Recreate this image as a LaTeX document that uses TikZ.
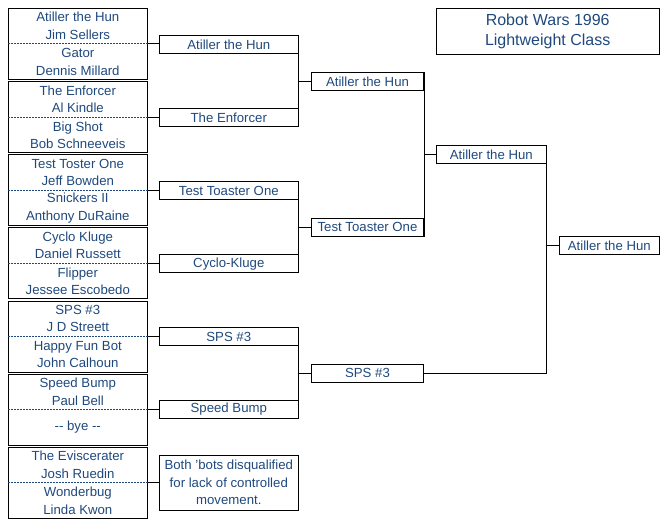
\documentclass[tikz,border=0pt]{standalone}
\usepackage{fontspec}
\setmainfont{Liberation Sans}
\definecolor{inkblue}{RGB}{31,73,125}

\begin{document}
\begin{tikzpicture}[x=0.75pt,y=0.75pt,yscale=-1,xscale=1,line width=0.75pt,
	every node/.style={text=inkblue,font=\fontsize{9.9}{13.1}\selectfont,inner sep=0pt,align=center},
	match/.style={draw=black,minimum width=104.25pt,minimum height=53.25pt},
	winner/.style={draw=black,minimum width=104.25pt,minimum height=13.5pt},
	later/.style={draw=black,minimum width=84.3pt,minimum height=13.5pt},
	split/.style={draw=inkblue,dash pattern=on 1.5pt off 0.75pt}]
		\useasboundingbox (0,0) rectangle (670,530);
		\node [match] (m1) at (77.8,44) {};
		\node (m1a) at (77.8,26) {Atiller the Hun\\Jim Sellers};
		\node (m1b) at (77.8,62) {Gator\\Dennis Millard};
		\node [match] (m2) at (77.8,117.2) {};
		\node (m2a) at (77.8,99.2) {The Enforcer\\Al Kindle};
		\node (m2b) at (77.8,135.2) {Big Shot\\Bob Schneeveis};
		\node [match] (m3) at (77.8,190.3) {};
		\node (m3a) at (77.8,172.3) {Test Toster One\\Jeff Bowden};
		\node (m3b) at (77.8,208.3) {Snickers II\\Anthony DuRaine};
		\node [match] (m4) at (77.8,263.5) {};
		\node (m4a) at (77.8,245.5) {Cyclo Kluge\\Daniel Russett};
		\node (m4b) at (77.8,281.5) {Flipper\\Jessee Escobedo};
		\node [match] (m5) at (77.8,336.7) {};
		\node (m5a) at (77.8,318.7) {SPS \#3\\J D Streett};
		\node (m5b) at (77.8,354.7) {Happy Fun Bot\\John Calhoun};
		\node [match] (m6) at (77.8,409.8) {};
		\node (m6a) at (77.8,391.9) {Speed Bump\\Paul Bell};
		\node (m6b) at (77.8,427.2) {{-}{-} bye {-}{-}};
		\node [match] (m7) at (77.8,482.8) {};
		\node (m7a) at (77.8,465) {The Eviscerater\\Josh Ruedin};
		\node (m7b) at (77.8,501) {Wonderbug\\Linda Kwon};
		\draw [split] (m1.west) -- (m1.east);
		\draw [split] (m2.west) -- (m2.east);
		\draw [split] (m3.west) -- (m3.east);
		\draw [split] (m4.west) -- (m4.east);
		\draw [split] (m5.west) -- (m5.east);
		\draw [split] (m6.west) -- (m6.east);
		\draw [split] (m7.west) -- (m7.east);
		\node [winner] (r1) at (228.8,44.8) {Atiller the Hun};
		\node [winner] (r2) at (228.8,117.8) {The Enforcer};
		\node [winner] (r3) at (228.8,190.8) {Test Toaster One};
		\node [winner] (r4) at (228.8,264) {Cyclo-Kluge};
		\node [winner] (r5) at (228.8,336.5) {SPS \#3};
		\node [winner] (r6) at (228.8,409.5) {Speed Bump};
		\node [winner,minimum height=41.25pt] (n7) at (228.8,482.7) {Both 'bots disqualified\\for lack of controlled\\movement.};
		\draw (m1.east) -- (m1.east -| r1.west);
		\draw (m2.east) -- (m2.east -| r2.west);
		\draw (m3.east) -- (m3.east -| r3.west);
		\draw (m4.east) -- (m4.east -| r4.west);
		\draw (m5.east) -- (m5.east -| r5.west);
		\draw (m6.east) -- (m6.east -| r6.west);
		\draw (m7.east) -- (m7.east -| n7.west);
		\node [later] (s1) at (367.5,81.3) {Atiller the Hun};
		\node [later] (s2) at (367.5,227.3) {Test Toaster One};
		\node [later] (s3) at (367.5,373.3) {SPS \#3};
		\draw (r1.north east) -- (r2.south east);
		\draw (r1.east |- s1) -- (s1.west);
		\draw (r3.north east) -- (r4.south east);
		\draw (r3.east |- s2) -- (s2.west);
		\draw (r5.north east) -- (r6.south east);
		\draw (r5.east |- s3) -- (s3.west);
		\node [later,minimum width=82.5pt] (t1) at (491.3,154.3) {Atiller the Hun};
		\draw (s1.north east) -- (s2.south east);
		\draw (s1.east |- t1) -- (t1.west);
		\node [later,minimum width=75pt] (f1) at (609.3,245.3) {Atiller the Hun};
		\draw (s3.east) -- (s3.east -| t1.east) -- (t1.south east);
		\draw (t1.east |- f1) -- (f1.west);
		\node [draw=black,minimum width=167.25pt,minimum height=34.3pt,font=\fontsize{12}{15.4}\selectfont] (title) at (547.7,31.2) {Robot Wars 1996\\Lightweight Class};
\end{tikzpicture}
\end{document}
